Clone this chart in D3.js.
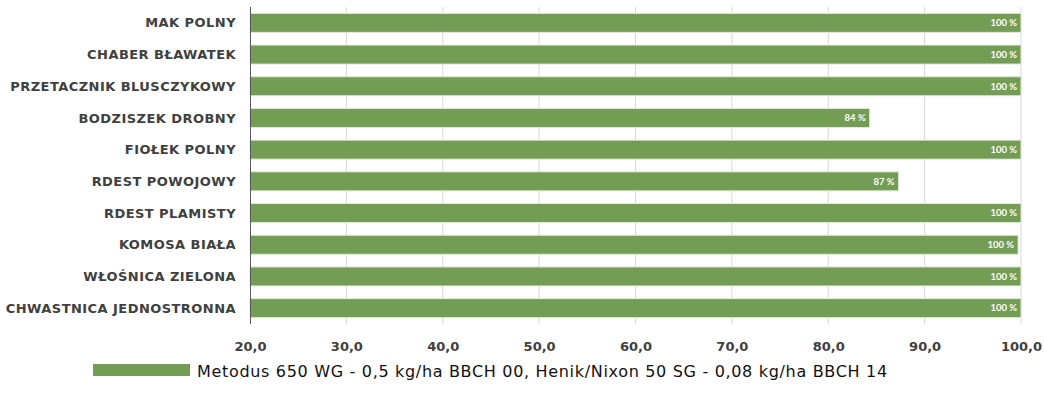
<!DOCTYPE html>
<html><head><meta charset="utf-8">
<script src="https://cdn.jsdelivr.net/npm/d3@7"></script>
<style>
body{margin:0;background:#fff;}
svg{display:block;}
</style></head>
<body>
<script>
const categories = ["MAK POLNY","CHABER BŁAWATEK","PRZETACZNIK BLUSCZYKOWY","BODZISZEK DROBNY","FIOŁEK POLNY","RDEST POWOJOWY","RDEST PLAMISTY","KOMOSA BIAŁA","WŁOŚNICA ZIELONA","CHWASTNICA JEDNOSTRONNA"];
const values = [100,100,100,84.3,100,87.3,100,99.7,100,100];
const valueLabels = ["100 %","100 %","100 %","84 %","100 %","87 %","100 %","100 %","100 %","100 %"];
const ticks = [20,30,40,50,60,70,80,90,100];
const seriesName = "Metodus 650 WG - 0,5 kg/ha BBCH 00, Henik/Nixon 50 SG - 0,08 kg/ha BBCH 14";

const W=1044,H=402;
const svg=d3.select("body").append("svg").attr("width",W).attr("height",H);
const x=d3.scaleLinear().domain([20,100]).range([250,1021]);
const y=d3.scaleBand().domain(categories).range([7,324]).paddingInner(0.4).paddingOuter(0.2);
const green="#739c55";
const font="'DejaVu Sans', sans-serif";
const font2="Lato, sans-serif";

// gridlines
svg.append("g").selectAll("line").data(ticks.slice(1)).join("line")
  .attr("x1",d=>x(d)).attr("x2",d=>x(d)).attr("y1",7).attr("y2",324)
  .attr("stroke","#d9d9d9").attr("stroke-width",1);

// bars
svg.append("g").selectAll("rect").data(categories).join("rect")
  .attr("x",x(20)).attr("y",d=>y(d))
  .attr("width",(d,i)=>x(values[i])-x(20)).attr("height",y.bandwidth())
  .attr("fill",green).attr("stroke","#e4ebdc").attr("stroke-width",1);

// value labels
svg.append("g").selectAll("text").data(categories).join("text")
  .attr("x",(d,i)=>x(values[i])-4).attr("y",d=>y(d)+y.bandwidth()/2)
  .attr("dy","0.35em").attr("text-anchor","end")
  .attr("font-family",font2).attr("font-weight","bold").attr("font-size",9.5)
  .attr("fill","#fff").text((d,i)=>valueLabels[i]);

// left axis line
svg.append("line").attr("x1",250.5).attr("x2",250.5).attr("y1",7).attr("y2",324)
  .attr("stroke","#595959").attr("stroke-width",1);

// category labels
svg.append("g").selectAll("text").data(categories).join("text")
  .attr("x",236).attr("y",d=>y(d)+y.bandwidth()/2).attr("dy","0.35em")
  .attr("text-anchor","end").attr("font-family",font).attr("font-weight","bold")
  .attr("font-size",13).attr("letter-spacing",0.45).attr("fill","#404040").text(d=>d);

// x axis tick labels
const xAxis=d3.axisBottom(x).tickValues(ticks).tickSize(0).tickFormat(d=>d3.format(".1f")(d).replace(".",","));
const gx=svg.append("g").attr("transform","translate(0,339)").call(xAxis);
gx.select(".domain").remove();
gx.selectAll("text").attr("font-family",font).attr("font-weight","bold").attr("font-size",13).attr("fill","#404040");

// legend
svg.append("rect").attr("x",93).attr("y",364).attr("width",97).attr("height",12).attr("fill",green);
svg.append("text").attr("x",197).attr("y",371).attr("dy","0.35em")
  .attr("font-family",font).attr("font-size",16).attr("letter-spacing",0.68).attr("fill","#111").text(seriesName);
</script>
</body></html>
